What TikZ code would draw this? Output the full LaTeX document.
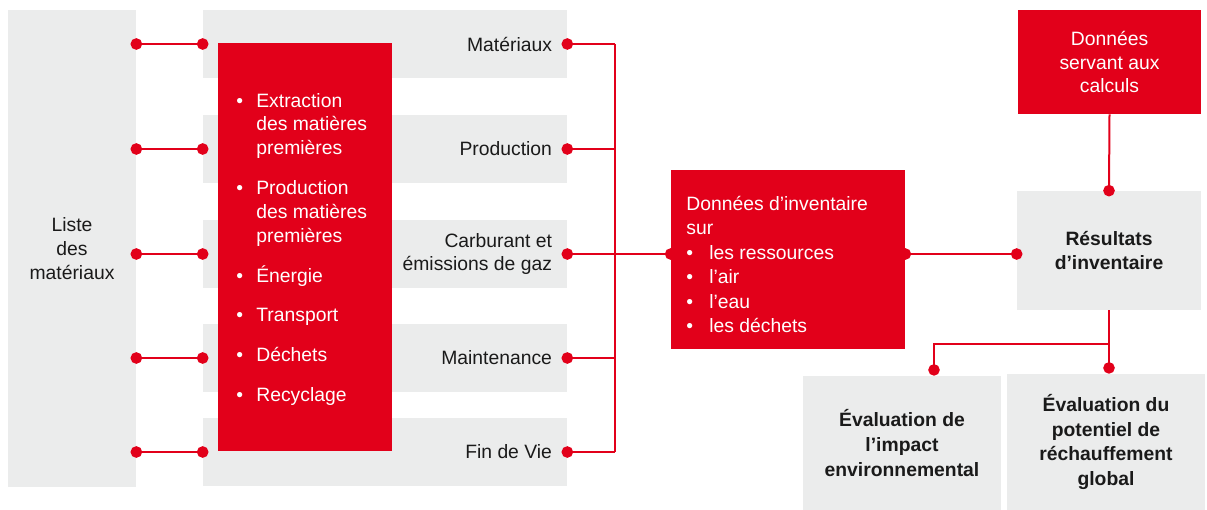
\documentclass[tikz,border=0pt]{standalone}
\usepackage{fontspec}
\setmainfont{Liberation Sans}
\usetikzlibrary{arrows.meta,positioning}
\definecolor{lcared}{HTML}{E2001A}
\definecolor{lcagray}{HTML}{EBECEC}
\definecolor{lcatext}{HTML}{1A1A1A}
\newcommand\dotmark[1][0.4cm]{\makebox[#1][l]{\textbullet}}
\tikzset{
    graybox/.style={
        rectangle,
        fill=lcagray,
        inner sep=0pt,
        text=lcatext,
        align=center
    },
    redbox/.style={
        rectangle,
        fill=lcared,
        inner sep=0pt,
        text=white,
        align=center
    },
    rowlabel/.style={inner sep=0pt, align=right, text=lcatext},
    bulletlist/.style={inner sep=0pt, anchor=north west, text=white},
    link/.style={draw=lcared, line width=0.055cm,
        {Circle[length=0.23cm]}-{Circle[length=0.23cm]},
        shorten <=-0.115cm, shorten >=-0.115cm},
    stub/.style={draw=lcared, line width=0.045cm,
        {Circle[length=0.23cm]}-, shorten <=-0.115cm},
    dotend/.style={draw=lcared, line width=0.04cm, -{Circle[length=0.23cm]}},
    bus/.style={draw=lcared, line width=0.03cm},
    font={\fontsize{11pt}{13.6pt}\selectfont},
}

\begin{document}
\begin{tikzpicture}[x=0.02cm, y=-0.02cm]
\useasboundingbox (0,0) rectangle (1207,510);

% left column
\node [graybox, minimum width=2.56cm, minimum height=9.54cm] (liste) at (72,248.5)
  {Liste\\des\\matériaux};

% life cycle rows
\foreach \l/\y [count=\i] in {Matériaux/44, Production/149,
    {Carburant et\\émissions de gaz}/254, Maintenance/358, Fin de Vie/452}
{
  \node [graybox, minimum width=7.28cm, minimum height=1.36cm] (row-\i) at (385,\y) {};
  \coordinate (bus-\i) at (615,\y);
}

\node [redbox, minimum width=3.48cm, minimum height=8.16cm] (stages) at (305,247) {};

\foreach \l [count=\i] in {Matériaux, Production,
    {Carburant et\\émissions de gaz}, Maintenance, Fin de Vie}
  \node [rowlabel, left=0.3cm of row-\i.east] (label-\i) {\l};

\node [bulletlist] (stage-list) at (236,90) {%
  \begin{tabular}{@{}l@{}l@{}}
    \dotmark & Extraction\\ & des matières\\ & premières\\[9pt]
    \dotmark & Production\\ & des matières\\ & premières\\[9pt]
    \dotmark & Énergie\\[9pt]
    \dotmark & Transport\\[9pt]
    \dotmark & Déchets\\[9pt]
    \dotmark & Recyclage
  \end{tabular}};

% inventory
\node [redbox, minimum width=4.68cm, minimum height=3.58cm] (inv) at (788,259.5) {};
\node [bulletlist, font=\fontsize{11pt}{13.9pt}\selectfont] (inv-list) at (686,193) {%
  \begin{tabular}{@{}l@{}l@{}}
    \multicolumn{2}{@{}l@{}}{Données d’inventaire}\\
    \multicolumn{2}{@{}l@{}}{sur}\\
    \dotmark[0.46cm] & les ressources\\
    \dotmark[0.46cm] & l’air\\
    \dotmark[0.46cm] & l’eau\\
    \dotmark[0.46cm] & les déchets
  \end{tabular}};

\node [redbox, minimum width=3.66cm, minimum height=2.08cm] (calc) at (1109.5,62)
  {Données\\servant aux\\calculs};
\node [graybox, minimum width=3.68cm, minimum height=2.38cm, font=\fontsize{11pt}{13.6pt}\selectfont\bfseries]
  (res) at (1109,250.5) {Résultats\\d’inventaire};
\node [graybox, minimum width=3.96cm, minimum height=2.68cm, font=\fontsize{11pt}{14.2pt}\selectfont\bfseries]
  (impact) at (902,443) {Évaluation de\\l’impact\\environnemental};
\node [graybox, minimum width=3.96cm, minimum height=2.72cm, font=\fontsize{11pt}{14.2pt}\selectfont\bfseries]
  (warming) at (1106,442) {Évaluation du\\potentiel de\\réchauffement\\global};

% connectors
\foreach \i in {1,...,5}
  \draw [link] (liste.east |- row-\i.west) -- (row-\i.west);

\foreach \i in {1,2,4,5}
  \draw [stub] (row-\i.east) -- (bus-\i);

\draw [bus] (bus-1) -- (bus-5);
\draw [link, line width=0.045cm] (row-3.east) -- (row-3.east -| inv.west);
\draw [link, line width=0.045cm] (inv.east |- row-3.east) -- (res.west |- row-3.east);
\draw [dotend, shorten >=-0.115cm] (calc.south) -- (res.north);

\coordinate (split) at (res.south |- 0,344);
\draw [dotend] (res.south) -- (res.south |- warming.north);
\draw [dotend, line width=0.03cm] (split) -| ([xshift=0.64cm]impact.north);

\end{tikzpicture}
\end{document}
